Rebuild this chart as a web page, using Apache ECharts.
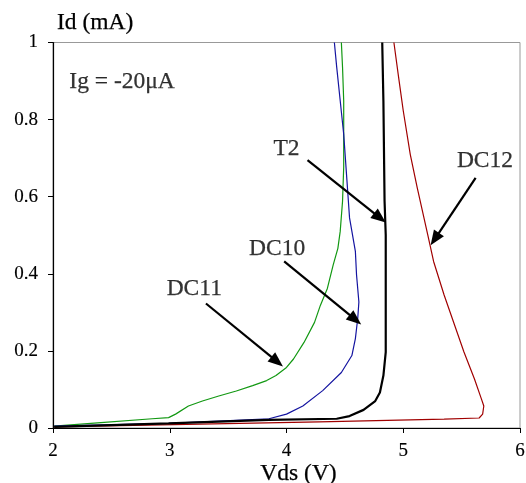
<!DOCTYPE html>
<html>
<head>
<meta charset="utf-8">
<script src="https://cdn.jsdelivr.net/npm/echarts@6/dist/echarts.min.js"></script>
<style>
  html, body { margin: 0; padding: 0; background: #fff; }
  #chart-container { width: 526px; height: 483px; }
</style>
</head>
<body>
<div id="chart-container"></div>
<script>
// [Vds (V), Id (mA)], in sweep order
const dc11 = [
    [2.01, 0.005], [2.41, 0.014], [2.85, 0.024], [2.99, 0.027], [3.05, 0.036],
    [3.16, 0.057], [3.28, 0.070], [3.42, 0.083], [3.57, 0.096], [3.71, 0.110],
    [3.83, 0.123], [3.91, 0.136], [4.00, 0.157], [4.06, 0.179], [4.15, 0.222],
    [4.24, 0.274], [4.29, 0.318], [4.35, 0.362], [4.40, 0.423], [4.44, 0.466],
    [4.46, 0.510], [4.48, 0.588], [4.49, 0.677], [4.49, 0.762], [4.49, 0.849],
    [4.48, 0.936], [4.47, 1.0]
];
const dc10 = [
    [2.01, 0.005], [2.99, 0.012], [3.85, 0.024], [4.00, 0.036], [4.14, 0.057],
    [4.31, 0.097], [4.47, 0.144], [4.56, 0.188], [4.59, 0.232], [4.61, 0.284],
    [4.62, 0.327], [4.60, 0.397], [4.59, 0.458], [4.54, 0.545], [4.52, 0.632],
    [4.49, 0.762], [4.46, 0.849], [4.43, 0.936], [4.41, 1.0]
];
const t2 = [
    [2.01, 0.003], [2.99, 0.012], [3.85, 0.021], [4.43, 0.024], [4.54, 0.031],
    [4.66, 0.047], [4.76, 0.070], [4.80, 0.092], [4.83, 0.136], [4.85, 0.197],
    [4.85, 0.501], [4.84, 0.588], [4.83, 0.849], [4.82, 1.0]
];
const dc12 = [
    [2.01, 0.003], [4.28, 0.016], [5.35, 0.023], [5.65, 0.026], [5.68, 0.036],
    [5.69, 0.057], [5.67, 0.075], [5.61, 0.127], [5.52, 0.197], [5.35, 0.345],
    [5.26, 0.432], [5.21, 0.501], [5.12, 0.623], [5.06, 0.710], [5.00, 0.823],
    [4.96, 0.910], [4.92, 1.0]
];

// annotation arrows: [from, to] in data units
const arrows = [
    [[4.18, 0.695], [4.80, 0.545]],
    [[5.62, 0.649], [5.27, 0.490]],
    [[3.98, 0.432], [4.59, 0.281]],
    [[3.31, 0.323], [3.92, 0.172]]
];
const labels = [
    { name: 'T2', value: [4.0, 0.723] },
    { name: 'DC12', value: [5.70, 0.693] },
    { name: 'DC10', value: [3.92, 0.466] },
    { name: 'DC11', value: [3.21, 0.362] }
];
const gateNote = { name: 'Ig = -20μA', value: [2.14, 0.897] };

const serif = '"Liberation Serif", "DejaVu Serif", serif';
// thin stroke of the same colour, so the serif text reads as dark as the original
const ink = { color: '#000', textBorderColor: '#000', textBorderWidth: 0.25 };

const myChart = echarts.init(document.getElementById('chart-container'));

function curve(name, data, color, width) {
    return {
        name: name,
        type: 'line',
        data: data,
        showSymbol: false,
        symbol: 'none',
        smooth: false,
        lineStyle: { color: color, width: width },
        silent: true,
        z: width > 1.5 ? 3 : 2
    };
}

const option = {
    animation: false,
    grid: {
        left: 53, right: 6, top: 42.5, bottom: 55,
        outerBoundsMode: 'none',
        containLabel: false,
        show: true, borderColor: '#999', borderWidth: 1
    },
    xAxis: {
        type: 'value', min: 2, max: 6, interval: 1,
        name: 'Vds (V)', nameLocation: 'middle', nameGap: 34,
        nameMoveOverlap: false,
        nameTextStyle: Object.assign({ fontFamily: serif, fontSize: 23.5, padding: [0, 0, 0, 24] }, ink),
        axisLine: { lineStyle: { color: '#000', width: 1.2 } },
        axisTick: { show: true, length: 5, lineStyle: { color: '#000' } },
        axisLabel: Object.assign({ fontFamily: serif, fontSize: 19, margin: 14 }, ink, { textBorderWidth: 0.15 }),
        splitLine: { show: false }
    },
    yAxis: {
        type: 'value', min: 0, max: 1, interval: 0.2,
        name: 'Id (mA)', nameLocation: 'end', nameGap: 8,
        nameMoveOverlap: false,
        nameTextStyle: Object.assign({ fontFamily: serif, fontSize: 23.5, align: 'left', padding: [0, 0, 0, 4] }, ink),
        axisLine: { show: true, lineStyle: { color: '#000', width: 1.2 } },
        axisTick: { show: true, length: 5, lineStyle: { color: '#000' } },
        axisLabel: Object.assign({ fontFamily: serif, fontSize: 19, margin: 15 }, ink, { textBorderWidth: 0.15 }),
        splitLine: { show: false }
    },
    series: [
        curve('DC11', dc11, '#129812', 1.2),
        curve('DC10', dc10, '#1414a0', 1.2),
        curve('DC12', dc12, '#a00000', 1.2),
        curve('T2', t2, '#000', 2.2),
        {
            name: 'notes',
            type: 'scatter',
            symbolSize: 0,
            silent: true,
            itemStyle: { color: '#000' },
            data: labels.concat([Object.assign({}, gateNote, {
                label: { align: 'left' }
            })]),
            label: Object.assign({
                show: true, position: 'inside', formatter: '{b}',
                fontFamily: serif, fontSize: 23.5
            }, ink),
            markLine: {
                silent: true,
                symbol: ['none', 'triangle'],
                symbolSize: [12, 15],
                label: { show: false },
                lineStyle: { color: '#000', width: 2.2, type: 'solid' },
                data: arrows.map(a => [{ coord: a[0] }, { coord: a[1] }])
            },
            z: 5
        }
    ]
};

myChart.setOption(option, { notMerge: true });
</script>
</body>
</html>
